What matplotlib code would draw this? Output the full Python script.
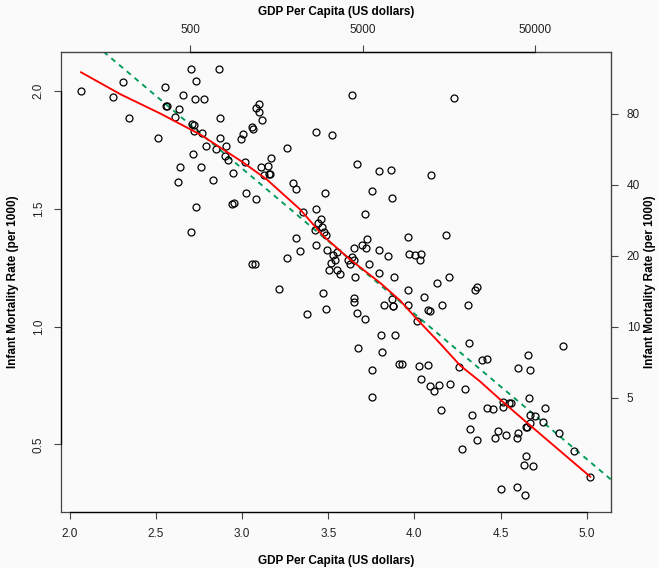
import numpy as np
import matplotlib
matplotlib.use("Agg")
import matplotlib.pyplot as plt

# log10 ВВП на душу населения и log10 младенческой смертности
log_gdp = [
    2.065, 2.306, 2.251, 2.343, 2.513, 2.550, 2.657, 2.701, 2.865, 2.734,
    2.728, 2.780, 2.557, 2.563, 2.635, 2.612, 2.873, 2.709, 2.718, 2.722,
    2.767, 2.873, 2.995, 2.790, 2.850, 2.908, 2.902, 2.915, 2.716, 2.637,
    2.763, 2.944, 2.629, 2.828, 2.941, 2.952, 2.730, 2.705, 3.097, 3.082,
    3.095, 3.113, 3.057, 3.064, 3.005, 3.018, 3.169, 3.111, 3.151, 3.128,
    3.157, 3.163, 3.263, 3.428, 3.523, 3.637, 3.024, 3.080, 3.298, 3.314,
    3.478, 3.354, 3.430, 3.459, 3.443, 3.465, 3.476, 3.486, 3.424, 3.310,
    3.664, 3.794, 3.863, 3.753, 3.871, 3.712, 3.722, 4.229, 4.097, 3.963,
    4.184, 3.057, 3.076, 3.213, 3.262, 3.333, 3.378, 3.426, 3.470, 3.484,
    3.490, 3.528, 3.538, 3.513, 3.550, 3.505, 3.552, 3.567, 3.614, 3.627,
    3.640, 3.650, 3.652, 3.654, 3.693, 3.720, 3.794, 3.847, 3.735, 3.795,
    3.882, 3.648, 3.652, 3.666, 3.712, 3.826, 3.872, 3.876, 3.878, 3.805,
    3.888, 3.673, 3.814, 3.913, 3.756, 3.756, 3.969, 4.006, 4.037, 4.031,
    4.132, 4.201, 3.962, 4.055, 3.963, 4.079, 4.089, 4.162, 4.310, 4.362,
    4.354, 4.016, 4.319, 3.925, 4.029, 4.078, 4.261, 4.393, 4.422, 4.041,
    4.091, 4.113, 4.142, 4.205, 4.294, 4.600, 4.660, 4.669, 4.861, 4.667,
    4.515, 4.551, 4.561, 4.423, 4.455, 4.515, 4.153, 4.333, 4.673, 4.700,
    4.756, 4.747, 4.669, 4.646, 4.655, 4.839, 4.928, 5.021, 4.323, 4.485,
    4.468, 4.530, 4.602, 4.597, 4.365, 4.277, 4.648, 4.635, 4.689, 4.503,
    4.594, 4.640,
]
log_mort = [
    2.000, 2.038, 1.973, 1.886, 1.798, 2.014, 1.980, 2.093, 2.093, 2.039,
    1.966, 1.963, 1.933, 1.933, 1.924, 1.890, 1.884, 1.860, 1.855, 1.828,
    1.822, 1.798, 1.794, 1.766, 1.753, 1.764, 1.723, 1.708, 1.730, 1.678,
    1.675, 1.653, 1.614, 1.623, 1.518, 1.522, 1.506, 1.401, 1.944, 1.928,
    1.908, 1.874, 1.844, 1.838, 1.818, 1.698, 1.716, 1.677, 1.681, 1.643,
    1.648, 1.648, 1.758, 1.825, 1.811, 1.983, 1.567, 1.539, 1.610, 1.581,
    1.567, 1.487, 1.499, 1.456, 1.438, 1.421, 1.400, 1.389, 1.408, 1.374,
    1.688, 1.661, 1.662, 1.576, 1.547, 1.475, 1.373, 1.969, 1.641, 1.378,
    1.390, 1.264, 1.264, 1.158, 1.291, 1.321, 1.052, 1.344, 1.141, 1.075,
    1.323, 1.302, 1.281, 1.268, 1.318, 1.240, 1.240, 1.222, 1.284, 1.266,
    1.295, 1.284, 1.333, 1.212, 1.344, 1.335, 1.323, 1.298, 1.264, 1.225,
    1.211, 1.119, 1.106, 1.059, 1.030, 1.090, 1.117, 1.089, 1.085, 0.963,
    0.965, 0.910, 0.891, 0.840, 0.815, 0.699, 1.308, 1.302, 1.306, 1.281,
    1.186, 1.212, 1.153, 1.124, 1.093, 1.072, 1.065, 1.092, 1.092, 1.169,
    1.153, 1.025, 0.928, 0.840, 0.831, 0.835, 0.828, 0.857, 0.863, 0.777,
    0.749, 0.728, 0.750, 0.757, 0.736, 0.823, 0.881, 0.814, 0.917, 0.696,
    0.681, 0.675, 0.677, 0.656, 0.650, 0.658, 0.645, 0.624, 0.624, 0.620,
    0.653, 0.596, 0.589, 0.576, 0.573, 0.548, 0.472, 0.363, 0.565, 0.556,
    0.528, 0.538, 0.547, 0.528, 0.520, 0.480, 0.449, 0.411, 0.410, 0.311,
    0.318, 0.287,
]

# сглаживающая кривая (lowess), тоже
smooth_x = [2.065, 2.293, 2.525, 2.757, 3.001, 3.144, 3.337, 3.472, 3.627,
            3.801, 3.917, 4.016, 4.149, 4.265, 4.381, 4.497, 4.631, 5.021]
smooth_y = [2.078, 1.985, 1.903, 1.814, 1.698, 1.623, 1.496, 1.383, 1.284,
            1.185, 1.110, 1.030, 0.928, 0.835, 0.767, 0.691, 0.606, 0.363]

bottom_ticks = [2.0, 2.5, 3.0, 3.5, 4.0, 4.5, 5.0]
left_ticks = [0.5, 1.0, 1.5, 2.0]
top_ticks = [500, 5000, 50000]
right_ticks = [5, 10, 20, 40, 80]

plt.rcParams['font.family'] = ['Liberation Sans', 'DejaVu Sans']

fig = plt.figure(figsize=(6.58, 5.68), dpi=100, facecolor='#fafafa')
ax = fig.add_axes([60.7 / 658, 1 - 511.7 / 568, 550 / 658, 460 / 568])
ax.set_facecolor('#fafafa')

gx = np.array(log_gdp)
my = np.array(log_mort)

ax.plot(gx, my, 'o', mfc='none', mec='black', ms=5, mew=0.9, zorder=3)

# линейная регрессия
k, b0 = np.polyfit(gx, my, 1)
ax.axline((0, b0), slope=k, color='#009a57', lw=1.35, dashes=(2.8, 2.6), zorder=2)

# сглаживание
ax.plot(smooth_x, smooth_y, color='#ff0000', lw=1.35, zorder=4)

# пределы как в R: +4% от размаха
xr = gx.max() - gx.min()
yr = my.max() - my.min()
ax.set_xlim(gx.min() - 0.04 * xr, gx.max() + 0.04 * xr)
ax.set_ylim(my.min() - 0.04 * yr, my.max() + 0.04 * yr)

for s in ax.spines.values():
    s.set_color('#444444')
    s.set_linewidth(0.9)

fs = 8.5
tick_kw = dict(direction='out', length=5, width=0.8, color='#444444',
               labelsize=fs, labelcolor='#222222', pad=6.5)

ax.set_xticks(bottom_ticks)
ax.set_xticklabels([f"{t:.1f}" for t in bottom_ticks])
ax.set_yticks(left_ticks)
ax.set_yticklabels([f"{t:.1f}" for t in left_ticks], rotation=90, va='center')
ax.tick_params(axis='both', **tick_kw)

ax.set_xlabel("GDP Per Capita (US dollars)", fontsize=fs, fontweight='bold', labelpad=11)
ax.set_ylabel("Infant Mortality Rate (per 1000)", fontsize=fs, fontweight='bold', labelpad=10)

top = ax.secondary_xaxis('top', functions=(lambda v: 10 ** v, np.log10))
top.set_xticks(top_ticks)
top.set_xticklabels([str(t) for t in top_ticks])
top.tick_params(**tick_kw)
top.set_xlabel("GDP Per Capita (US dollars)", fontsize=fs, fontweight='bold', labelpad=6)

right = ax.secondary_yaxis('right', functions=(lambda v: 10 ** v, np.log10))
right.set_yticks(right_ticks)
right.set_yticklabels([str(t) for t in right_ticks])
right.tick_params(**tick_kw)
right.set_ylabel("Infant Mortality Rate (per 1000)", fontsize=fs, fontweight='bold', labelpad=3)

# линии осей от первой до последней метки
ax.plot([bottom_ticks[0], bottom_ticks[-1]], [0, 0], color='black', lw=0.9,
        transform=ax.get_xaxis_transform(), clip_on=False, zorder=5)
ax.plot([0, 0], [left_ticks[0], left_ticks[-1]], color='black', lw=0.9,
        transform=ax.get_yaxis_transform(), clip_on=False, zorder=5)
ax.plot(np.log10([top_ticks[0], top_ticks[-1]]), [1, 1], color='black', lw=0.9,
        transform=ax.get_xaxis_transform(), clip_on=False, zorder=5)

fig.savefig("out.png", dpi=100, facecolor=fig.get_facecolor())
